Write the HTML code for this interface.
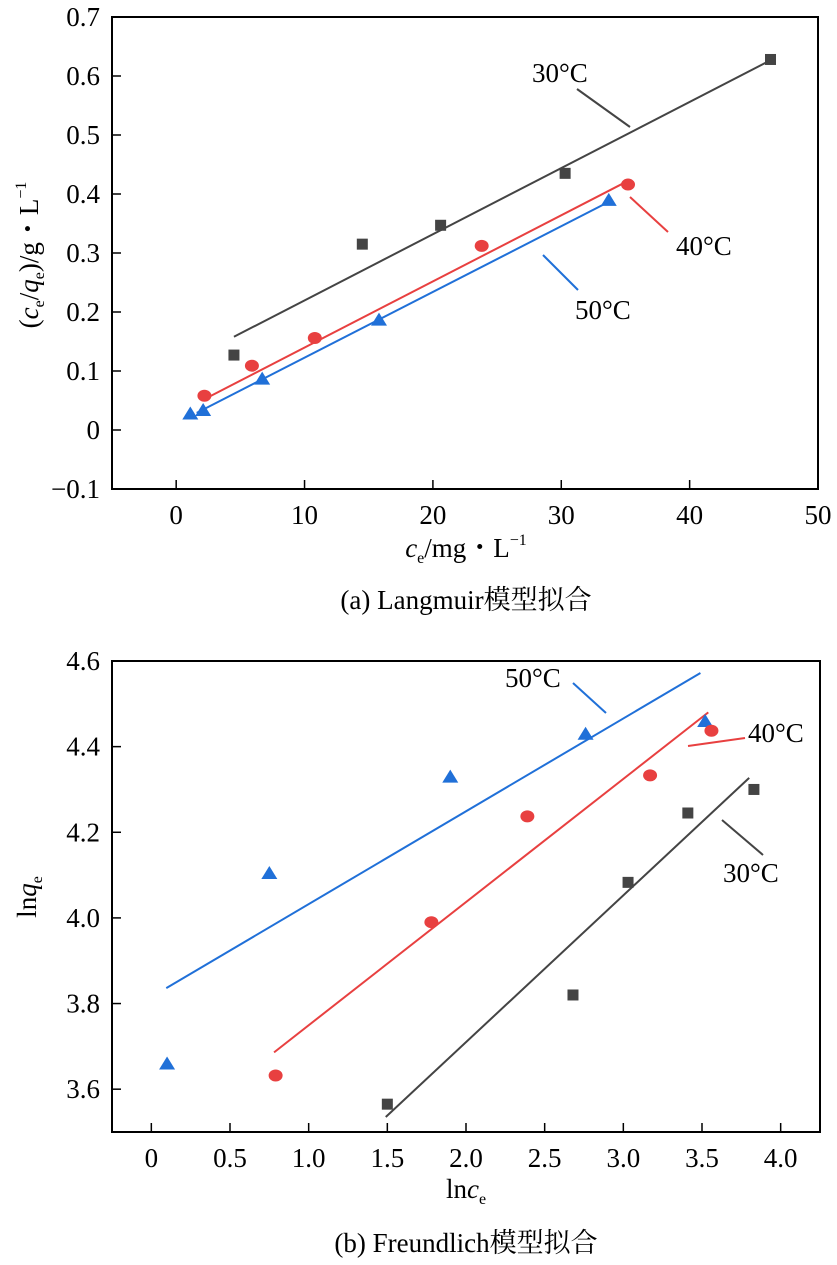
<!DOCTYPE html>
<html><head><meta charset="utf-8"><style>
body{margin:0;background:#fff;}
svg{display:block;font-family:"Liberation Serif","Noto Serif CJK SC",serif;}
</style></head><body>
<svg id="s" width="837" height="1265" xmlns="http://www.w3.org/2000/svg">
<g id="topg"></g>
<g id="botg"></g>
<text x="466" y="557" font-size="27" text-anchor="middle"><tspan font-style="italic">c</tspan><tspan font-size="16" dy="6">e</tspan><tspan dy="-6">/mg・L</tspan><tspan font-size="16" dy="-12">−1</tspan></text>
<text x="466" y="609" font-size="27" text-anchor="middle">(a) Langmuir模型拟合</text>
<text transform="translate(38,255) rotate(-90)" font-size="27" text-anchor="middle">(<tspan font-style="italic">c</tspan><tspan font-size="16" dy="6">e</tspan><tspan dy="-6">/</tspan><tspan font-style="italic">q</tspan><tspan font-size="16" dy="6">e</tspan><tspan dy="-6">)/g・L</tspan><tspan font-size="16" dy="-12">−1</tspan></text>
<text x="466" y="1198" font-size="27" text-anchor="middle">ln<tspan font-style="italic">c</tspan><tspan font-size="16" dy="6">e</tspan></text>
<text x="466" y="1252" font-size="27" text-anchor="middle">(b) Freundlich模型拟合</text>
<text transform="translate(36,897) rotate(-90)" font-size="27" text-anchor="middle">ln<tspan font-style="italic">q</tspan><tspan font-size="16" dy="6">e</tspan></text>
</svg>
<script>
// Chart A data
const aXTicks=[0,10,20,30,40,50];
const aYTicks=[-0.1,0,0.1,0.2,0.3,0.4,0.5,0.6,0.7];
const aYLabels=["−0.1","0","0.1","0.2","0.3","0.4","0.5","0.6","0.7"];
const a30x=[4.5,14.5,20.6,30.3,46.3];
const a30y=[0.127,0.315,0.347,0.435,0.628];
const a40x=[2.2,5.9,10.8,23.8,35.2];
const a40y=[0.058,0.109,0.156,0.312,0.416];
const a50x=[1.1,2.1,6.7,15.8,33.7];
const a50y=[0.028,0.034,0.087,0.187,0.39];
const a30fit=[[4.5,0.158],[46.6,0.63]];
const a40fit=[[2.0,0.05],[35.0,0.42]];
const a50fit=[[1.6,0.029],[34.0,0.39]];
// Chart B data
const bXTicks=[0,0.5,1.0,1.5,2.0,2.5,3.0,3.5,4.0];
const bXLabels=["0","0.5","1.0","1.5","2.0","2.5","3.0","3.5","4.0"];
const bYTicks=[3.6,3.8,4.0,4.2,4.4,4.6];
const bYLabels=["3.6","3.8","4.0","4.2","4.4","4.6"];
const b50x=[0.1,0.75,1.9,2.76,3.52];
const b50y=[3.66,4.105,4.33,4.43,4.46];
const b40x=[0.79,1.78,2.39,3.17,3.56];
const b40y=[3.632,3.99,4.237,4.333,4.437];
const b30x=[1.5,2.68,3.03,3.41,3.83];
const b30y=[3.565,3.82,4.083,4.245,4.3];
const b50fit=[[0.095,3.836],[3.49,4.572]];
const b40fit=[[0.78,3.686],[3.54,4.48]];
const b30fit=[[1.49,3.535],[3.80,4.327]];

const NS="http://www.w3.org/2000/svg";
function mk(p,t,a){const e=document.createElementNS(NS,t);for(const k in a)e.setAttribute(k,a[k]);p.appendChild(e);return e;}
const C30="#444",C40="#e84040",C50="#2070d8";

function chart(g,L,R,T,B,x0,x1,y0,y1,xt,xl,yt,yl){
  const X=v=>L+(v-x0)/(x1-x0)*(R-L);
  const Y=v=>B-(v-y0)/(y1-y0)*(B-T);
  const fr=mk(g,'rect',{x:L,y:T,width:R-L,height:B-T,fill:'none',stroke:'#000','stroke-width':2});
  
  
  xt.forEach((v,i)=>{
    const tk=mk(g,'line',{x1:X(v),x2:X(v),y1:B,y2:B-9,stroke:'#000','stroke-width':1.5});
    
    
    const t=mk(g,'text',{x:X(v),y:B+35,'font-size':27,'text-anchor':'middle'});
    t.textContent=xl[i];
    
    
  });
  yt.forEach((v,i)=>{
    const tk=mk(g,'line',{x1:L,x2:L+9,y1:Y(v),y2:Y(v),stroke:'#000','stroke-width':1.5});
    
    
    const t=mk(g,'text',{x:L-12,y:Y(v)+9,'font-size':27,'text-anchor':'end'});
    t.textContent=yl[i];
    
    
  });
  return {X,Y};
}
function fit(g,ax,f,c,name){
  const l=mk(g,'line',{x1:ax.X(f[0][0]),y1:ax.Y(f[0][1]),x2:ax.X(f[1][0]),y2:ax.Y(f[1][1]),stroke:c,'stroke-width':2});
  
  
}
function pts(g,ax,xs,ys,kind,c,name){
  xs.forEach((x,i)=>{
    const px=ax.X(x),py=ax.Y(ys[i]);let e;
    if(kind==='sq')e=mk(g,'rect',{x:px-5.5,y:py-5.5,width:11,height:11,fill:c});
    else if(kind==='ci')e=mk(g,'ellipse',{cx:px,cy:py,rx:7,ry:6,fill:c});
    else e=mk(g,'polygon',{points:`${px},${py-7} ${px-8},${py+6} ${px+8},${py+6}`,fill:c});
    
    
  });
}
function lab(g,x,y,txt,lx1,ly1,lx2,ly2,c,name){
  const t=mk(g,'text',{x:x,y:y,'font-size':27});
  t.textContent=txt;
  
  
  const l=mk(g,'line',{x1:lx1,y1:ly1,x2:lx2,y2:ly2,stroke:c,'stroke-width':2});
  
  
}
const ga=document.getElementById('topg');
const A=chart(ga,112,818,17,489,-5,50,-0.1,0.7,aXTicks,aXTicks.map(String),aYTicks,aYLabels);
fit(ga,A,a30fit,C30,'fit-line-30c');fit(ga,A,a40fit,C40,'fit-line-40c');fit(ga,A,a50fit,C50,'fit-line-50c');
pts(ga,A,a30x,a30y,'sq',C30,'point-30c');pts(ga,A,a40x,a40y,'ci',C40,'point-40c');pts(ga,A,a50x,a50y,'tr',C50,'point-50c');
lab(ga,532,82,'30°C',577,89,630,127,C30,'label-30c');
lab(ga,676,255,'40°C',630,197,668,232,C40,'label-40c');
lab(ga,575,319,'50°C',543,255,578,290,C50,'label-50c');

const gb=document.getElementById('botg');
const Bc=chart(gb,112,820,661,1132,-0.25,4.25,3.5,4.6,bXTicks,bXLabels,bYTicks,bYLabels);
fit(gb,Bc,b50fit,C50,'fit-line-50c');fit(gb,Bc,b40fit,C40,'fit-line-40c');fit(gb,Bc,b30fit,C30,'fit-line-30c');
pts(gb,Bc,b50x,b50y,'tr',C50,'point-50c');pts(gb,Bc,b40x,b40y,'ci',C40,'point-40c');pts(gb,Bc,b30x,b30y,'sq',C30,'point-30c');
lab(gb,505,687,'50°C',573,683,606,713,C50,'label-50c');
lab(gb,748,742,'40°C',688,746,745,738,C40,'label-40c');
lab(gb,723,882,'30°C',722,820,763,855,C30,'label-30c');
</script>
</body></html>
